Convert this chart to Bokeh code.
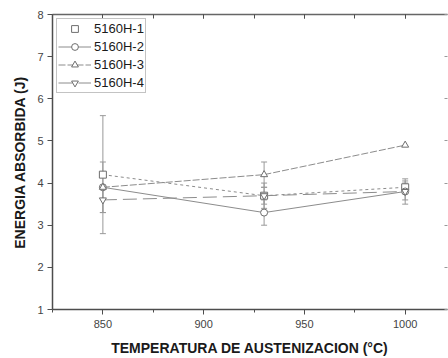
from bokeh.plotting import figure
from bokeh.models import (LinearAxis, Whisker, ColumnDataSource, SingleIntervalTicker,
                          Legend, LegendItem, Range1d, TeeHead)
from bokeh.embed import file_html
from bokeh.resources import INLINE

# ---- data ----
temps = [850, 930, 1000]
series_names = ["5160H-1", "5160H-2", "5160H-3", "5160H-4"]
h1 = [4.2, 3.7, 3.9]
h1_err = [1.4, 0.2, 0.15]
h2 = [3.9, 3.3, 3.8]
h2_err = [0.6, 0.3, 0.2]
h3 = [3.9, 4.2, 4.9]
h3_err = [0.0, 0.3, 0.0]
h4 = [3.6, 3.7, 3.8]
h4_err = [0.3, 0.3, 0.3]

x_ticks_interval = 50
y_ticks_interval = 1

FONT = "Liberation Sans"
GRAY = "#8c8c8c"
MARK = "#6e6e6e"
AX = "#4d4d4d"

p = figure(width=448, height=358, x_range=Range1d(825, 1021), y_range=Range1d(1, 8),
           output_backend="svg", toolbar_location=None,
           min_border_left=52, min_border_right=1, min_border_top=14, min_border_bottom=45)
p.outline_line_color = None
p.grid.visible = False
p.background_fill_color = "white"
p.border_fill_color = "white"

# bottom axis
xa = p.xaxis[0]
xa.ticker = SingleIntervalTicker(interval=x_ticks_interval, num_minor_ticks=2)
xa.axis_label = "TEMPERATURA DE AUSTENIZACION (°C)"
xa.axis_label_text_font = FONT
xa.axis_label_text_font_style = "bold"
xa.axis_label_text_font_size = "14px"
xa.axis_label_text_color = "#1a1a1a"
xa.axis_label_standoff = 9
xa.major_label_text_font = FONT
xa.major_label_text_font_size = "11px"
xa.major_label_text_color = "#444444"
xa.major_label_standoff = 5
xa.axis_line_color = AX
xa.axis_line_width = 1.5
xa.major_tick_line_color = AX
xa.minor_tick_line_color = AX
xa.major_tick_out = 5
xa.major_tick_in = 0
xa.minor_tick_out = 3
xa.minor_tick_in = 0

# left axis
ya = p.yaxis[0]
ya.ticker = SingleIntervalTicker(interval=y_ticks_interval, num_minor_ticks=0)
ya.axis_label = "ENERGIA ABSORBIDA (J)"
ya.axis_label_text_font = FONT
ya.axis_label_text_font_style = "bold"
ya.axis_label_text_font_size = "14px"
ya.axis_label_text_color = "#1a1a1a"
ya.axis_label_standoff = 6
ya.major_label_text_font = FONT
ya.major_label_text_font_size = "11px"
ya.major_label_text_color = "#444444"
ya.major_label_standoff = 4
ya.axis_line_color = AX
ya.axis_line_width = 1.5
ya.major_tick_line_color = AX
ya.minor_tick_line_color = None
ya.major_tick_out = 5
ya.major_tick_in = 0

# top axis (ticks inward, no labels)
top = LinearAxis(ticker=SingleIntervalTicker(interval=x_ticks_interval, num_minor_ticks=2))
top.major_label_text_font_size = "1px"
top.major_label_text_color = None
top.major_label_standoff = 0
top.major_tick_in = 4
top.major_tick_out = 0
top.minor_tick_in = 4
top.minor_tick_out = 0
top.axis_line_color = "#666666"
top.axis_line_width = 1.5
top.major_tick_line_color = AX
top.minor_tick_line_color = AX
p.add_layout(top, "above")

# right axis (ticks inward, no line, no labels)
right = LinearAxis(ticker=SingleIntervalTicker(interval=y_ticks_interval, num_minor_ticks=0))
right.major_label_text_font_size = "1px"
right.major_label_text_color = None
right.major_label_standoff = 0
right.major_tick_in = 3
right.major_tick_out = 0
right.minor_tick_line_color = None
right.axis_line_color = None
right.major_tick_line_color = "#999999"
p.add_layout(right, "right")

all_vals = [h1, h2, h3, h4]
all_errs = [h1_err, h2_err, h3_err, h4_err]
markers = ["square", "circle", "triangle", "inverted_triangle"]
dashes = ["3 3", "solid", "7 2", "14 6"]

items = []
for name, vals, errs, mk, dash in zip(series_names, all_vals, all_errs, markers, dashes):
    src = ColumnDataSource(dict(x=temps, y=vals))
    ex = [t for t, e in zip(temps, errs) if e > 0]
    up = [v + e for v, e in zip(vals, errs) if e > 0]
    lo = [v - e for v, e in zip(vals, errs) if e > 0]
    esrc = ColumnDataSource(dict(x=ex, upper=up, lower=lo))
    w = Whisker(source=esrc, base="x", upper="upper", lower="lower",
                line_color="#999999", line_width=1,
                upper_head=TeeHead(size=6, line_color="#999999", line_width=1),
                lower_head=TeeHead(size=6, line_color="#999999", line_width=1))
    p.add_layout(w)
    ln = p.line("x", "y", source=src, line_color=GRAY, line_width=1, line_dash=dash)
    sc = p.scatter("x", "y", source=src, marker=mk, size=7, fill_color="white",
                   line_color=MARK, line_width=1)
    if name == "5160H-1":
        items.append(LegendItem(label=name, renderers=[sc]))
    else:
        items.append(LegendItem(label=name, renderers=[ln, sc]))

legend = Legend(items=items, location="top_left")
legend.label_text_font = FONT
legend.label_text_font_size = "13px"
legend.label_text_color = "#1a1a1a"
legend.border_line_color = "#888888"
legend.border_line_width = 1
legend.background_fill_color = "white"
legend.glyph_width = 33
legend.glyph_height = 17
legend.label_height = 17
legend.spacing = 1
legend.padding = 1
legend.label_standoff = 3
legend.margin = 4
p.add_layout(legend)

open("out.html", "w").write(file_html(p, INLINE))
